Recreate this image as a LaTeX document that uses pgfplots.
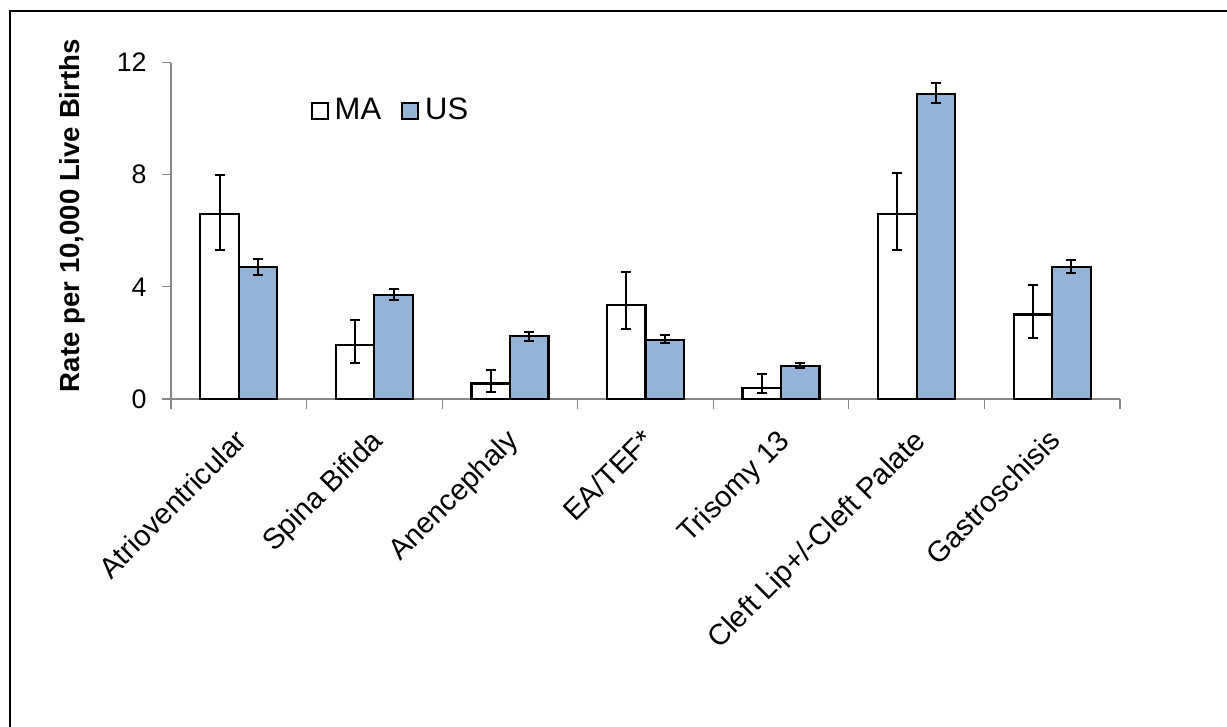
\documentclass[border=0pt]{standalone}
\usepackage{fontspec}
\setmainfont{Liberation Sans}
\usepackage{pgfplots}
\pgfplotsset{compat=1.18}
\usepackage{pgfplotstable}

\definecolor{usblue}{RGB}{149,179,215}
\definecolor{axisgray}{RGB}{134,134,134}

% Rates per 10,000 live births with asymmetric confidence limits
\pgfplotstableread{
x val plus minus
0 6.60 1.40 1.30
1 1.92 0.88 0.63
2 0.55 0.50 0.31
3 3.36 1.18 0.87
4 0.40 0.49 0.20
5 6.60 1.46 1.28
6 3.01 1.05 0.82
}\matable
\pgfplotstableread{
x val plus minus
0 4.71 0.29 0.30
1 3.71 0.22 0.18
2 2.24 0.16 0.18
3 2.10 0.18 0.09
4 1.19 0.09 0.09
5 10.89 0.38 0.35
6 4.71 0.26 0.23
}\ustable

\begin{document}
\begin{tikzpicture}
\useasboundingbox (0,0) rectangle (613.5pt,-363.5pt);
\draw[line width=1pt] (613.5pt,-5.5pt) -- (5pt,-5.5pt) -- (5pt,-363.5pt);
\begin{axis}[
  at={(85.5pt,-199.5pt)}, anchor=south west,
  scale only axis, width=474.5pt, height=168.25pt,
  ybar=0pt, bar width=19.25pt,
  xmin=-0.5, xmax=6.5, ymin=0, ymax=12,
  axis x line*=bottom, axis y line*=left,
  axis line style={axisgray, line width=0.6pt},
  ytick={0,4,8,12},
  xtick={0,...,6},
  xticklabels={Atrioventricular, Spina Bifida, Anencephaly, EA/TEF*, Trisomy 13, Cleft Lip+/-Cleft Palate, Gastroschisis},
  major x tick style={draw=none},
  minor xtick={-0.5,0.5,...,6.5},
  tick align=outside,
  tick style={axisgray, line width=0.6pt},
  major tick length=4.5pt, minor tick length=5pt,
  /pgf/number format/assume math mode=true,
  yticklabel style={font=\fontsize{13.4}{16}\selectfont, inner sep=0pt, xshift=-7.5pt},
  xticklabel style={font=\fontsize{14.6}{17}\selectfont, inner sep=0pt,
    xshift=-2.5pt, yshift=-9.5pt, rotate=45, anchor=north east},
  ylabel={Rate per 10,000 Live Births},
  ylabel style={font=\fontsize{13.8}{16}\selectfont\bfseries, at={(axis description cs:-0.1038,0.545)}, anchor=center},
  legend columns=2,
  legend style={draw=none, fill=none, inner sep=0pt, outer sep=0pt,
    at={(rel axis cs:0.1472,0.8573)}, anchor=west,
    font=\fontsize{15.5}{18}\selectfont,
    nodes={inner sep=0pt},
    column sep=3pt,
    /tikz/every even column/.append style={column sep=10pt}},
  legend image code/.code={\draw[#1, line width=1pt] (0pt,-4pt) rectangle (8pt,4pt);},
  error bars/error bar style={black, line width=1pt},
  error bars/error mark options={black, line width=1pt, mark size=2.5pt, rotate=90},
]
\addplot[fill=white, draw=black, line width=1.1pt,
  error bars/.cd, y dir=both, y explicit]
  table[x=x, y=val, y error plus=plus, y error minus=minus] {\matable};
\addplot[fill=usblue, draw=black, line width=1.1pt,
  error bars/.cd, y dir=both, y explicit]
  table[x=x, y=val, y error plus=plus, y error minus=minus] {\ustable};
\legend{MA, US}
\end{axis}
\end{tikzpicture}
\end{document}
